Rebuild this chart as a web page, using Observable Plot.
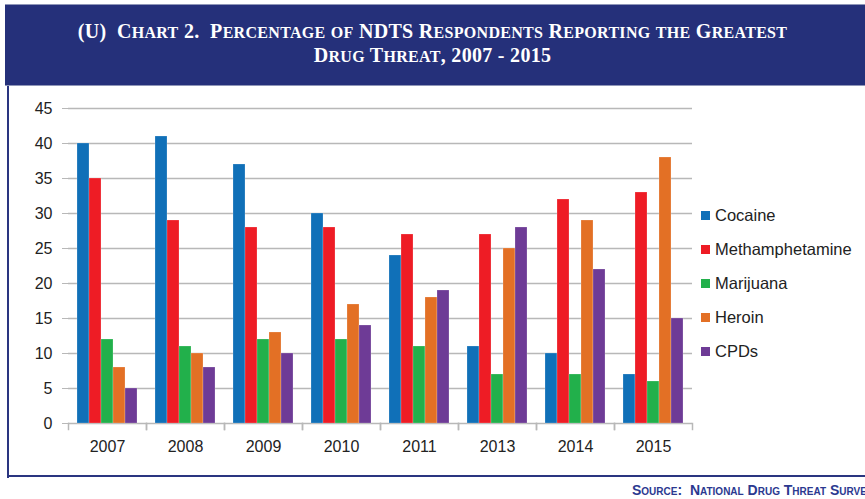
<!DOCTYPE html>
<html>
<head>
<meta charset="utf-8">
<script src="https://cdn.jsdelivr.net/npm/d3@7"></script>
<script src="https://cdn.jsdelivr.net/npm/@observablehq/plot@0.6"></script>
<style>
  html, body { margin: 0; padding: 0; background: #fff; }
  #page { position: relative; width: 865px; height: 499px; overflow: hidden; background: #fff; }
  #banner { position: absolute; left: 5px; top: 4px; width: 870px; height: 82px; background: #25307a;
    border-top: 1px solid #8f96b8; border-bottom: 1px solid #8f96b8; box-sizing: border-box; }
  #title { position: absolute; left: 5px; width: 855px; top: 20px; text-align: center; color: #fff;
    font-family: "Liberation Serif", "DejaVu Serif", serif; font-weight: bold;
    font-size: 20px; line-height: 23px; letter-spacing: 0.3px; }
  #title .sc { font-size: 0.8em; text-transform: uppercase; }
  #leftline { position: absolute; left: 7px; top: 86px; width: 2px; height: 392px; background: #2a3580; }
  #bottomline { position: absolute; left: 7px; top: 475px; width: 870px; height: 2px; background: #2a3580; }
  #chart { position: absolute; left: 9px; top: 90px; }
  #legend { position: absolute; left: 701px; top: 199px; font-family: "Liberation Sans", Arial, sans-serif;
    font-size: 16.5px; color: #222; }
  .item { height: 33.8px; display: flex; align-items: center; }
  .sw { width: 9px; height: 9px; margin-right: 5px; }
  #source { position: absolute; left: 632px; top: 482px; white-space: nowrap; color: #2b3990;
    font-family: "Liberation Sans", Arial, sans-serif; font-weight: bold; font-variant: small-caps;
    font-size: 14px; }
</style>
</head>
<body>
<div id="page">
  <div id="banner"></div>
  <div id="title"></div>
  <div id="leftline"></div>
  <div id="bottomline"></div>
  <div id="chart"></div>
  <div id="legend"></div>
  <div id="source">Source:&nbsp; National Drug Threat Survey</div>
</div>
<script>
const titleLines = ["(U)\u00a0 Chart 2.\u00a0 Percentage of NDTS Respondents Reporting the Greatest", "Drug Threat, 2007 - 2015"];
const years = ["2007", "2008", "2009", "2010", "2011", "2013", "2014", "2015"];
const drugs = ["Cocaine", "Methamphetamine", "Marijuana", "Heroin", "CPDs"];
const cocaine = [40, 41, 37, 30, 24, 11, 10, 7];
const methamphetamine = [35, 29, 28, 28, 27, 27, 32, 33];
const marijuana = [12, 11, 12, 12, 11, 7, 7, 6];
const heroin = [8, 10, 13, 17, 18, 25, 29, 38];
const cpds = [5, 8, 10, 14, 19, 28, 22, 15];
const colors = ["#1070b8", "#ee1c25", "#22b04b", "#e37025", "#6e3b96"];
const yTicks = [0, 5, 10, 15, 20, 25, 30, 35, 40, 45];

// manual small caps title (real text)
const titleEl = document.getElementById("title");
titleLines.forEach((line, li) => {
  const div = document.createElement("div");
  line.split(/([a-z]+)/).forEach(part => {
    if (!part) return;
    const s = document.createElement("span");
    if (/^[a-z]+$/.test(part)) s.className = "sc";
    s.textContent = part;
    div.appendChild(s);
  });
  titleEl.appendChild(div);
});

const series = [cocaine, methamphetamine, marijuana, heroin, cpds];
const data = years.flatMap((y, i) => drugs.map((d, j) => ({year: y, drug: d, value: series[j][i]})));

const chart = Plot.plot({
  width: 690,
  height: 380,
  marginLeft: 57,
  marginRight: 6,
  marginTop: 18,
  marginBottom: 47,
  style: {fontFamily: "Liberation Sans, Arial, sans-serif", fontSize: "16px", color: "#222", background: "transparent"},
  fx: {domain: years, padding: 0, label: null},
  x: {domain: drugs, paddingInner: 0, paddingOuter: 0.75, axis: null},
  y: {domain: [0, 45], label: null},
  color: {domain: drugs, range: colors},
  marks: [
    Plot.ruleY(yTicks, {stroke: "#b8b8b8", strokeWidth: 1.5}),
    Plot.barY(data, {fx: "year", x: "drug", y: "value", fill: "drug", stroke: "#ffffff", strokeOpacity: 0.35, strokeWidth: 0.6}),
    Plot.frame({anchor: "left", insetTop: 315, insetBottom: -6, stroke: "#b8b8b8", strokeWidth: 1.5}),
    Plot.frame({anchor: "right", insetTop: 315, insetBottom: -6, stroke: "#b8b8b8", strokeWidth: 1.5}),
    Plot.axisY({ticks: yTicks, tickSize: 6, tickPadding: 10, stroke: "#b8b8b8", fill: "#222", label: null}),
    Plot.axisFx({anchor: "bottom", tickSize: 0, tickPadding: 17, fill: "#222", label: null})
  ]
});
document.getElementById("chart").appendChild(chart);

const legend = document.getElementById("legend");
drugs.forEach((d, i) => {
  const row = document.createElement("div");
  row.className = "item";
  const sw = document.createElement("div");
  sw.className = "sw";
  sw.style.background = colors[i];
  const t = document.createElement("span");
  t.textContent = d;
  row.appendChild(sw);
  row.appendChild(t);
  legend.appendChild(row);
});
</script>
</body>
</html>
